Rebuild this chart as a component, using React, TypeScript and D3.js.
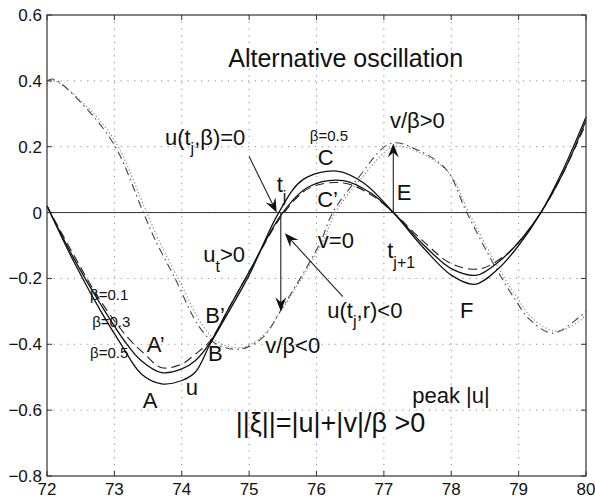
import React from 'react';
import * as d3 from 'd3';

// u curves (t, u) for the three beta values
const uOuter: [number, number][] = [
  [72.0, 0.02], [72.4, -0.15], [72.8, -0.3], [73.1, -0.4], [73.4, -0.49], [73.7, -0.52],
  [74.0, -0.51], [74.2, -0.485], [74.42, -0.4], [74.7, -0.3], [75.0, -0.19], [75.44, 0.0],
  [75.8, 0.1], [76.3, 0.126], [76.7, 0.09], [77.14, 0.0], [77.6, -0.11], [78.0, -0.19],
  [78.35, -0.218], [78.7, -0.17], [79.0, -0.1], [79.33, 0.0], [79.66, 0.13], [80.0, 0.29],
];
const uInner: [number, number][] = [
  [72.0, 0.02], [72.4, -0.14], [72.8, -0.28], [73.15, -0.39], [73.4, -0.45], [73.7, -0.486],
  [74.0, -0.475], [74.2, -0.45], [74.42, -0.395], [74.7, -0.29], [75.0, -0.18], [75.5, 0.0],
  [75.9, 0.08], [76.4, 0.097], [76.8, 0.06], [77.14, 0.0], [77.6, -0.1], [78.0, -0.17],
  [78.38, -0.19], [78.7, -0.15], [79.0, -0.09], [79.33, 0.0], [79.66, 0.12], [80.0, 0.28],
];
const uDashed: [number, number][] = [
  [72.0, 0.02], [72.4, -0.13], [72.8, -0.27], [73.2, -0.38], [73.45, -0.43], [73.7, -0.471],
  [74.0, -0.46], [74.2, -0.43], [74.42, -0.39], [74.7, -0.29], [75.0, -0.18], [75.52, 0.0],
  [75.9, 0.075], [76.4, 0.09], [76.8, 0.055], [77.14, 0.0], [77.6, -0.09], [78.0, -0.155],
  [78.42, -0.171], [78.8, -0.13], [79.0, -0.09], [79.33, 0.0], [79.66, 0.12], [80.0, 0.27],
];

// v/beta curves
const vDashDot: [number, number][] = [
  [72.0, 0.4], [72.1, 0.405], [72.5, 0.335], [73.0, 0.205], [73.43, 0.0], [73.6, -0.08],
  [73.9, -0.2], [74.27, -0.35], [74.52, -0.4], [74.86, -0.415], [75.2, -0.38], [75.46, -0.3],
  [76.05, -0.093], [76.24, 0.0], [76.6, 0.1], [77.1, 0.21], [77.5, 0.19], [77.93, 0.13],
  [78.23, 0.0], [78.62, -0.153], [78.92, -0.255], [79.17, -0.326], [79.51, -0.366],
  [79.91, -0.316], [80.0, -0.3],
];
const vDotted: [number, number][] = [
  [72.0, 0.39], [72.1, 0.4], [72.5, 0.34], [73.0, 0.22], [73.48, 0.0], [73.65, -0.08],
  [73.97, -0.21], [74.3, -0.34], [74.55, -0.395], [74.9, -0.41], [75.2, -0.375], [75.5, -0.29],
  [76.1, -0.085], [76.28, 0.0], [76.65, 0.1], [77.15, 0.2], [77.55, 0.18], [77.97, 0.12],
  [78.26, 0.0], [78.65, -0.15], [78.95, -0.25], [79.2, -0.32], [79.55, -0.36], [79.9, -0.33],
  [80.0, -0.31],
];

const xTicks = [72, 73, 74, 75, 76, 77, 78, 79, 80];
const yTicks = [-0.8, -0.6, -0.4, -0.2, 0, 0.2, 0.4, 0.6];

const width = 595;
const height = 499;
const margin = { top: 15, right: 9, bottom: 23, left: 47 };
const font = "'Liberation Sans', Arial, sans-serif";

const x = d3.scaleLinear().domain([72, 80]).range([margin.left, width - margin.right]);
const y = d3.scaleLinear().domain([-0.8, 0.6]).range([height - margin.bottom, margin.top]);

const line = d3.line<[number, number]>()
  .x(d => x(d[0]))
  .y(d => y(d[1]))
  .curve(d3.curveCatmullRom.alpha(0.5));

const fmt = (v: number) => {
  const s = Math.abs(v) < 1e-9 ? '0' : v.toFixed(1);
  return s.replace('-', '\u2212');
};

// arrow from (t0,v0) to (t1,v1) in data units, head at the end
const Arrow = ({ from, to }: { from: [number, number]; to: [number, number] }) => {
  const x0 = x(from[0]), y0 = y(from[1]);
  const x1 = x(to[0]), y1 = y(to[1]);
  const ang = Math.atan2(y1 - y0, x1 - x0);
  const len = 14, half = 5.5, notch = 9;
  const pt = (d: number, s: number) => [
    x1 - d * Math.cos(ang) - s * Math.sin(ang),
    y1 - d * Math.sin(ang) + s * Math.cos(ang),
  ];
  const a = pt(len, half), b = pt(notch, 0), c = pt(len, -half);
  return (
    <g>
      <line x1={x0} y1={y0} x2={b[0]} y2={b[1]} stroke="#222" strokeWidth={1.1} />
      <path d={`M${x1},${y1}L${a[0]},${a[1]}L${b[0]},${b[1]}L${c[0]},${c[1]}Z`} fill="#111" />
    </g>
  );
};

const Label = ({ t, v, size = 22, children }: any) => (
  <text x={x(t)} y={y(v)} fontSize={size} fontFamily={font} fill="#111">{children}</text>
);

const App = () => {
  const plotL = margin.left, plotR = width - margin.right;
  const plotT = margin.top, plotB = height - margin.bottom;
  return (
    <>
      <style>{`body{margin:0;background:#fff;}`}</style>
      <svg width={width} height={height} style={{ display: 'block' }}>
        <rect width={width} height={height} fill="#fff" />
        {/* grid */}
        <g stroke="#8a8a8a" strokeWidth={1} strokeDasharray="1.2,5.5">
          {xTicks.slice(1, -1).map(t => (
            <line key={'gx' + t} x1={x(t)} x2={x(t)} y1={plotT} y2={plotB} />
          ))}
          {yTicks.slice(1, -1).map(t => (
            <line key={'gy' + t} x1={plotL} x2={plotR} y1={y(t)} y2={y(t)} />
          ))}
        </g>
        {/* zero line */}
        <line x1={plotL} x2={plotR} y1={y(0)} y2={y(0)} stroke="#333" strokeWidth={1} />

        {/* v/beta curves */}
        <path d={line(vDotted) || ''} fill="none" stroke="#888" strokeWidth={1.1} strokeDasharray="1.3,2.2" />
        <path d={line(vDashDot) || ''} fill="none" stroke="#444" strokeWidth={1.1} strokeDasharray="8,4,1.5,4" />

        {/* u curves */}
        <path d={line(uDashed) || ''} fill="none" stroke="#222" strokeWidth={1.1} strokeDasharray="9,5" />
        <path d={line(uInner) || ''} fill="none" stroke="#111" strokeWidth={1.3} />
        <path d={line(uOuter) || ''} fill="none" stroke="#111" strokeWidth={1.3} />

        {/* arrows */}
        <Arrow from={[75.0, 0.17]} to={[75.41, 0.0]} />
        <Arrow from={[75.47, 0.0]} to={[75.47, -0.3]} />
        <Arrow from={[76.39, -0.255]} to={[75.53, -0.063]} />
        <Arrow from={[77.14, 0.0]} to={[77.14, 0.21]} />

        {/* axes box and ticks */}
        <rect x={plotL} y={plotT} width={plotR - plotL} height={plotB - plotT} fill="none" stroke="#333" strokeWidth={1.2} />
        <g stroke="#333" strokeWidth={1}>
          {xTicks.map(t => (
            <g key={'tx' + t}>
              <line x1={x(t)} x2={x(t)} y1={plotB} y2={plotB - 5} />
              <line x1={x(t)} x2={x(t)} y1={plotT} y2={plotT + 5} />
            </g>
          ))}
          {yTicks.map(t => (
            <g key={'ty' + t}>
              <line x1={plotL} x2={plotL + 5} y1={y(t)} y2={y(t)} />
              <line x1={plotR} x2={plotR - 5} y1={y(t)} y2={y(t)} />
            </g>
          ))}
        </g>
        <g fontFamily={font} fontSize={17} fill="#111">
          {xTicks.map(t => (
            <text key={'lx' + t} x={x(t)} y={plotB + 19} textAnchor="middle">{t}</text>
          ))}
          {yTicks.map(t => (
            <text key={'ly' + t} x={plotL - 5} y={y(t) + 6} textAnchor="end">{fmt(t)}</text>
          ))}
        </g>

        {/* annotations */}
        <Label t={74.69} v={0.442} size={25}>Alternative oscillation</Label>
        <Label t={73.75} v={0.205}>u(t<tspan dy={9} fontSize={16}>j</tspan><tspan dy={-9}>,β)=0</tspan></Label>
        <Label t={75.9} v={0.217} size={15}>β=0.5</Label>
        <Label t={76.02} v={0.145}>C</Label>
        <Label t={75.41} v={0.062}>t<tspan dy={10} fontSize={16}>j</tspan></Label>
        <Label t={76.01} v={0.017}>C’</Label>
        <Label t={77.09} v={0.257}>v/β&gt;0</Label>
        <Label t={77.19} v={0.038}>E</Label>
        <Label t={76.02} v={-0.108}>v=0</Label>
        <Label t={77.05} v={-0.138}>t<tspan dy={10} fontSize={16}>j+1</tspan></Label>
        <Label t={74.32} v={-0.15}>u<tspan dy={10} fontSize={16}>t</tspan><tspan dy={-10}>&gt;0</tspan></Label>
        <Label t={74.35} v={-0.335}>B’</Label>
        <Label t={74.39} v={-0.451}>B</Label>
        <Label t={75.24} v={-0.426}>v/β&lt;0</Label>
        <Label t={76.16} v={-0.32}>u(t<tspan dy={9} fontSize={16}>j</tspan><tspan dy={-9}>,r)&lt;0</tspan></Label>
        <Label t={77.42} v={-0.578}>peak |u|</Label>
        <Label t={74.8} v={-0.666} size={27}>||ξ||=|u|+|v|/β &gt;0</Label>
        <Label t={74.06} v={-0.554}>u</Label>
        <Label t={73.42} v={-0.593}>A</Label>
        <Label t={73.48} v={-0.423}>A’</Label>
        <Label t={72.64} v={-0.265} size={15}>β=0.1</Label>
        <Label t={72.67} v={-0.347} size={15}>β=0.3</Label>
        <Label t={72.64} v={-0.442} size={15}>β=0.5</Label>
        <Label t={78.13} v={-0.32}>F</Label>
      </svg>
    </>
  );
};

export default App;
